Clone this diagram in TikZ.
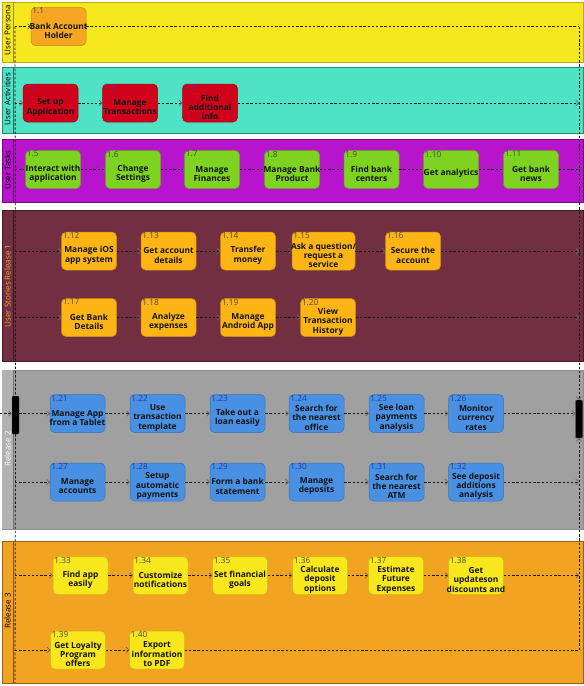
\documentclass[tikz,border=0pt]{standalone}
\usepackage{fontspec}
\setmainfont{Open Sans}
\usetikzlibrary{arrows.meta}
\definecolor{bandP}{HTML}{F7E71E}
\definecolor{bandA}{HTML}{4DE3C4}
\definecolor{bandT}{HTML}{B814CE}
\definecolor{bandR}{HTML}{722F41}
\definecolor{bandG}{HTML}{A0A0A0}
\definecolor{bandO}{HTML}{F3A322}
\definecolor{boxOr}{HTML}{F5A623}
\definecolor{boxRed}{HTML}{D0021B}
\definecolor{boxGr}{HTML}{7ED321}
\definecolor{boxAm}{HTML}{FDB515}
\definecolor{boxBl}{HTML}{4A90E2}
\definecolor{boxYe}{HTML}{F8E71C}
\definecolor{numRed}{HTML}{5E2E9A}
\definecolor{numBl}{HTML}{2A3A9E}
\definecolor{numGy}{HTML}{4A4A4A}
\newcommand{\storybox}[6]{%
  \node[box,#2] (#1) at (#3,#4) {};
  \node[boxtext] at ([yshift=-4.3pt]#1.center) {#6};
  \node[numlbl] at (#1.north west) {#5};
}
\begin{document}
\begin{tikzpicture}[x=1pt,y=-1pt,
  band/.style={line width=0.7pt},
  box/.style={rounded corners=4.5pt, minimum width=55pt, minimum height=38pt, inner sep=0pt, line width=0.5pt},
  boxtext/.style={font=\fontsize{8.4}{9.4}\selectfont\bfseries, align=center, text=black!92, inner sep=0pt},
  numcol/.style={text=numGy},
  numlbl/.style={anchor=north west, font=\fontsize{8.3}{9}\selectfont, inner sep=0.8pt, xshift=0.6pt, yshift=0.2pt, numcol},
  orbox/.style={fill=boxOr, draw=boxOr!80!black},
  redbox/.style={fill=boxRed, draw=boxRed!80!black},
  grbox/.style={fill=boxGr, draw=boxGr!80!black},
  ambox/.style={fill=boxAm, draw=boxAm!80!black},
  blbox/.style={fill=boxBl, draw=boxBl!80!black},
  yebox/.style={fill=boxYe, draw=boxYe!80!black},
  widebox/.style={minimum width=63pt},
  bandlbl/.style={rotate=90, font=\fontsize{8}{9}\selectfont, inner sep=0pt},
  flow/.style={draw=black!90, line width=0.8pt, dash pattern=on 2.4pt off 1.8pt,
    -{Straight Barb[length=2.6pt, width=5.5pt, line width=0.7pt, color=black!60]}},
  plain/.style={draw=black!90, line width=0.8pt, dash pattern=on 2.4pt off 1.8pt},
  bar/.style={fill=black, draw=black!70, minimum width=7pt, minimum height=38pt, inner sep=0pt, rounded corners=1pt}
]
\useasboundingbox (0,0) rectangle (584,686);
% bands
\draw[band, fill=bandP, draw=bandP!75!black] (2,2) rectangle (583,62);
\draw[band, draw=bandP!60!black] (13,2) -- (13,62);
\draw[band, fill=bandA, draw=bandA!60!black] (2,67) rectangle (583,133);
\draw[band, draw=bandA!50!black] (13,67) -- (13,133);
\draw[band, fill=bandT, draw=bandT!60!black] (2,139) rectangle (583,202);
\draw[band, draw=bandT!50!black] (13,139) -- (13,202);
\draw[band, fill=bandR, draw=bandR!60!black] (2,210) rectangle (583,361);
\draw[band, draw=bandR!50!black] (13,210) -- (13,361);
\draw[band, fill=bandG, draw=black!45] (2,370) rectangle (583,529);
\fill[black!30] (2.4,370.4) rectangle (13,528.6);
\draw[band, draw=black!55] (13,370) -- (13,529);
\draw[band, fill=bandO, draw=bandO!60!black] (2,541) rectangle (583,683);
\draw[band, draw=bandO!50!black] (13,541) -- (13,683);
% band labels
\node[bandlbl, text=black] (lp) at (7.5,30) {User Persona};
\node[bandlbl, text=black] (la) at (7.5,99) {User Activities};
\node[bandlbl, text=black] (lt) at (7.5,170) {User Tasks};
\node[bandlbl, text=boxOr] (l1) at (7.5,286) {User Stories Release 1};
\node[bandlbl, text=white] (l2) at (7.5,449) {Release 2};
\node[bandlbl, text=black] (l3) at (7.5,611) {Release 3};
% boxes
\storybox{n11}{orbox}{58.5}{26.5}{1.1}{Bank Account\\Holder}
\tikzset{numcol/.style={text=numRed}}
\storybox{n12}{redbox}{50.5}{103}{1.2}{Set up\\Application}
\storybox{n13}{redbox}{130}{103}{1.3}{Manage\\Transactions}
\storybox{n14}{redbox}{210}{103}{1.4}{Find\\additional\\info}
\tikzset{numcol/.style={text=numGy}}
\storybox{n15}{grbox}{53}{169.5}{1.5}{Interact with\\application}
\storybox{n16}{grbox}{133}{169.5}{1.6}{Change\\Settings}
\storybox{n17}{grbox}{212}{169.5}{1.7}{Manage\\Finances}
\storybox{n18}{grbox}{292}{169.5}{1.8}{Manage Bank\\Product}
\storybox{n19}{grbox}{371.5}{169.5}{1.9}{Find bank\\centers}
\storybox{n110}{grbox}{451}{169.5}{1.10}{Get analytics}
\storybox{n111}{grbox}{531}{169.5}{1.11}{Get bank\\news}
\storybox{n112}{ambox}{89}{251}{1.12}{Manage iOS\\app system}
\storybox{n113}{ambox}{168.5}{251}{1.13}{Get account\\details}
\storybox{n114}{ambox}{248}{251}{1.14}{Transfer\\money}
\storybox{n115}{ambox,widebox}{323.5}{251}{1.15}{Ask a question/\\request a\\service}
\storybox{n116}{ambox}{413}{251}{1.16}{Secure the\\account}
\storybox{n117}{ambox}{89}{317.5}{1.17}{Get Bank\\Details}
\storybox{n118}{ambox}{168.5}{317.5}{1.18}{Analyze\\expenses}
\storybox{n119}{ambox}{248}{317.5}{1.19}{Manage\\Android App}
\storybox{n120}{ambox}{328}{317.5}{1.20}{View\\Transaction\\History}
\tikzset{numcol/.style={text=numBl}}
\storybox{n121}{blbox}{77.5}{413.5}{1.21}{Manage App\\from a Tablet}
\storybox{n122}{blbox}{157.5}{413.5}{1.22}{Use\\transaction\\template}
\storybox{n123}{blbox}{237.5}{413.5}{1.23}{Take out a\\loan easily}
\storybox{n124}{blbox}{316.5}{413.5}{1.24}{Search for\\the nearest\\office}
\storybox{n125}{blbox}{396.5}{413.5}{1.25}{See loan\\payments\\analysis}
\storybox{n126}{blbox}{476}{413.5}{1.26}{Monitor\\currency\\rates}
\storybox{n127}{blbox}{77.5}{482}{1.27}{Manage\\accounts}
\storybox{n128}{blbox}{157.5}{482}{1.28}{Setup\\automatic\\payments}
\storybox{n129}{blbox}{237.5}{482}{1.29}{Form a bank\\statement}
\storybox{n130}{blbox}{316.5}{482}{1.30}{Manage\\deposits}
\storybox{n131}{blbox}{396.5}{482}{1.31}{Search for\\the nearest\\ATM}
\storybox{n132}{blbox}{476}{482}{1.32}{See deposit\\additions\\analysis}
\tikzset{numcol/.style={text=numGy}}
\storybox{n133}{yebox}{80.5}{575.5}{1.33}{Find app\\easily}
\storybox{n134}{yebox}{160.5}{575.5}{1.34}{Customize\\notifications}
\storybox{n135}{yebox}{240}{575.5}{1.35}{Set financial\\goals}
\storybox{n136}{yebox}{320}{575.5}{1.36}{Calculate\\deposit\\options}
\storybox{n137}{yebox}{396}{575.5}{1.37}{Estimate\\Future\\Expenses}
\storybox{n138}{yebox}{476}{575.5}{1.38}{Get\\updateson\\discounts and}
\storybox{n139}{yebox}{78}{650}{1.39}{Get Loyalty\\Program\\offers}
\storybox{n140}{yebox}{157}{650}{1.40}{Export\\information\\to PDF}
% bars
\node[bar] (barL) at (15.5,415) {};
\node[bar] (barR) at (579,419) {};
% coordinates
\coordinate (Ltop) at (15,26.5);
\coordinate (Lbot) at (15,683);
\coordinate (Rtop) at (579,26.5);
\coordinate (Rbot) at (579,650);
\coordinate (La) at (15,103);   \coordinate (Ra) at (579,103);
\coordinate (Lt) at (15,169.5); \coordinate (Rt) at (579,169.5);
\coordinate (L1a) at (15,251);  \coordinate (R1a) at (579,251);
\coordinate (L1b) at (15,317.5);\coordinate (R1b) at (579,317.5);
\coordinate (Lin) at (0,413.5);
\coordinate (L2b) at (15,482);  \coordinate (R2b) at (579,482);
\coordinate (L3a) at (15,575.5);\coordinate (R3a) at (579,575.5);
\coordinate (L3b) at (15,650);
% connectors
\draw[plain] (Ltop) -- (barL.north);
\draw[plain] (barL.south) -- (Lbot);
\draw[flow] (Ltop) -- (n11);
\draw[plain] (n11) -- (Rtop);
\draw[flow] (Rtop) -- (barR.north);
\draw[flow] (Rbot) -- (barR.south);
\draw[flow] (La) -- (n12); \draw[flow] (n12) -- (n13); \draw[flow] (n13) -- (n14); \draw[flow] (n14) -- (Ra);
\draw[flow] (Lt) -- (n15); \draw[flow] (n15) -- (n16); \draw[flow] (n16) -- (n17); \draw[flow] (n17) -- (n18);
\draw[flow] (n18) -- (n19); \draw[flow] (n19) -- (n110); \draw[flow] (n110) -- (n111); \draw[flow] (n111) -- (Rt);
\draw[flow] (L1a) -- (n112); \draw[flow] (n112) -- (n113); \draw[flow] (n113) -- (n114); \draw[flow] (n114) -- (n115);
\draw[flow] (n115) -- (n116); \draw[flow] (n116) -- (R1a);
\draw[flow] (L1b) -- (n117); \draw[flow] (n117) -- (n118); \draw[flow] (n118) -- (n119); \draw[flow] (n119) -- (n120);
\draw[flow] (n120) -- (R1b);
\draw[flow] (Lin) -- (Lin -| barL.west);
\draw[flow] (barL.east |- n121) -- (n121); \draw[flow] (n121) -- (n122); \draw[flow] (n122) -- (n123);
\draw[flow] (n123) -- (n124); \draw[flow] (n124) -- (n125); \draw[flow] (n125) -- (n126);
\draw[flow] (n126) -- (n126 -| barR.west);
\draw[flow] (L2b) -- (n127); \draw[flow] (n127) -- (n128); \draw[flow] (n128) -- (n129); \draw[flow] (n129) -- (n130);
\draw[flow] (n130) -- (n131); \draw[flow] (n131) -- (n132); \draw[flow] (n132) -- (R2b);
\draw[flow] (L3a) -- (n133); \draw[flow] (n133) -- (n134); \draw[flow] (n134) -- (n135); \draw[flow] (n135) -- (n136);
\draw[flow] (n136) -- (n137); \draw[flow] (n137) -- (n138); \draw[flow] (n138) -- (R3a);
\draw[flow] (L3b) -- (n139); \draw[flow] (n139) -- (n140);
\draw[plain] (n140) -- (Rbot);
\end{tikzpicture}
\end{document}
